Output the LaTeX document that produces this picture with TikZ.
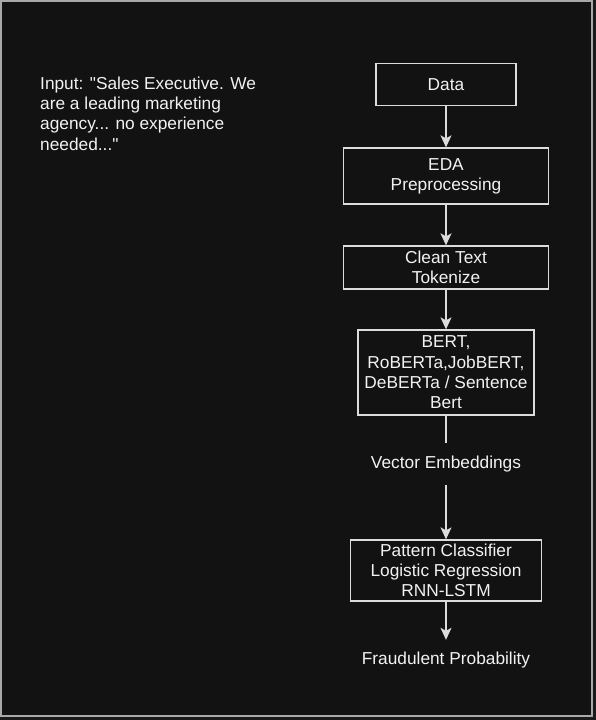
\documentclass[tikz,border=0pt]{standalone}
\usepackage{fontspec}
\setmainfont{Liberation Sans}[Ligatures=TeXOff]
\usetikzlibrary{arrows.meta}
\definecolor{bg}{HTML}{121212}
\definecolor{outer}{HTML}{1A1A1A}
\definecolor{frame}{HTML}{A8A8A8}
\definecolor{stroke}{HTML}{DCDCDC}
\definecolor{txt}{HTML}{F2F2F2}
\tikzset{
  box/.style={draw=stroke, line width=1.3pt, fill=bg, inner sep=0pt, align=center,
    text=txt, font=\fontsize{17.3}{20.3}\selectfont},
  plain/.style={inner sep=0pt, align=center, text=txt, font=\fontsize{17.3}{20.3}\selectfont},
  conn/.style={draw=stroke, line width=1.3pt},
  arr/.style={conn, -{Stealth[length=12pt,width=11pt,inset=3pt]}}
}
\begin{document}
\begin{tikzpicture}[x=1pt,y=-1pt]
\useasboundingbox (0,0) rectangle (596,720);
\fill[outer] (0,0) rectangle (596,720);
\fill[bg] (1,1) rectangle (592,716);
\draw[frame, line width=1.5pt] (1,1) rectangle (592,716);

\node[plain, align=left, anchor=north west] (input) at (40,76.5)
  {Input: "Sales Executive. We\\are a leading marketing\\agency... no experience\\needed..."};

\node[box, minimum width=140pt, minimum height=42pt] (data) at (446,84.3) {Data};
\node[box, minimum width=205pt, minimum height=56pt] (eda) at (446,176) {EDA\\Preprocessing};
\node[box, minimum width=205pt, minimum height=43pt] (clean) at (446,267.5) {Clean Text\\Tokenize};
\node[box, minimum width=176pt, minimum height=85pt] (bert) at (446,372.5) {BERT,\\RoBERTa,JobBERT,\\DeBERTa / Sentence\\Bert};
\node[plain, minimum width=160pt, minimum height=42pt] (vec) at (446,464) {Vector Embeddings};
\node[box, minimum width=191pt, minimum height=61pt] (pat) at (446,570.5) {Pattern Classifier\\Logistic Regression\\RNN-LSTM};
\node[plain, minimum width=170pt, minimum height=40pt] (fraud) at (446,660) {Fraudulent Probability};

\draw[arr] (data.south) -- (eda.north);
\draw[arr] (eda.south) -- (clean.north);
\draw[arr] (clean.south) -- (bert.north);
\draw[conn] (bert.south) -- (vec.north);
\draw[arr] (vec.south) -- (pat.north);
\draw[arr] (pat.south) -- (fraud.north);
\end{tikzpicture}
\end{document}
